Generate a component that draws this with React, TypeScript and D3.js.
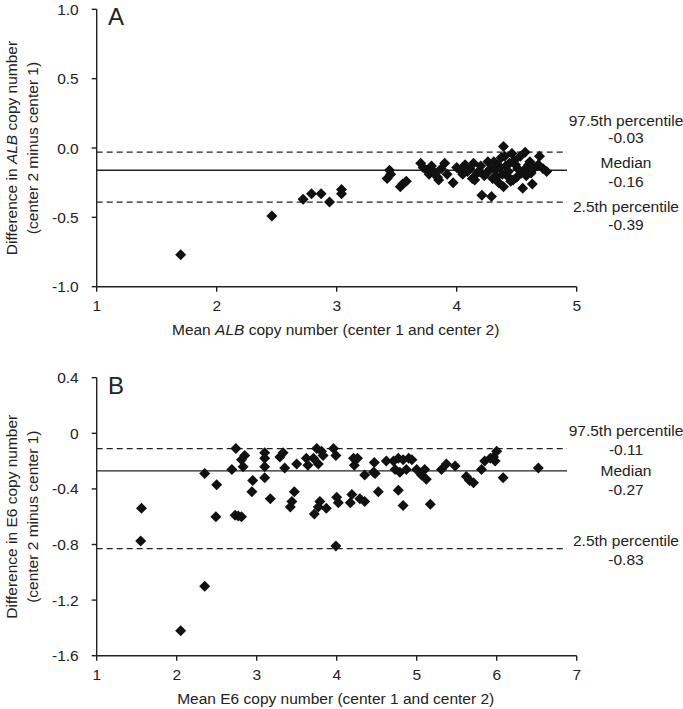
import React from "react";
import * as d3 from "d3";

// Panel A: mean ALB copy number vs difference
const albPoints: [number, number][] = [
  [1.70,-0.77],[2.46,-0.49],[2.72,-0.37],[2.79,-0.33],[2.87,-0.33],[2.94,-0.39],[3.04,-0.30],[3.04,-0.33],
  [3.42,-0.22],[3.44,-0.16],[3.45,-0.19],[3.53,-0.28],[3.55,-0.26],[3.58,-0.24],
  [3.70,-0.11],[3.72,-0.14],[3.75,-0.16],[3.77,-0.19],[3.79,-0.13],[3.80,-0.17],[3.82,-0.18],[3.84,-0.21],[3.85,-0.23],[3.87,-0.15],[3.90,-0.11],[3.92,-0.19],[3.97,-0.25],
  [4.00,-0.14],[4.03,-0.16],[4.05,-0.19],[4.07,-0.12],[4.09,-0.17],[4.11,-0.15],[4.13,-0.22],[4.14,-0.11],[4.15,-0.23],[4.17,-0.18],[4.19,-0.17],[4.20,-0.13],[4.21,-0.34],[4.23,-0.20],[4.25,-0.18],[4.26,-0.10],[4.28,-0.15],[4.29,-0.35],[4.30,-0.22],[4.31,-0.10],[4.32,-0.16],[4.33,-0.21],[4.34,-0.12],[4.35,-0.25],[4.36,-0.14],[4.37,-0.07],[4.38,-0.19],[4.39,0.01],[4.39,-0.28],[4.40,-0.06],[4.41,-0.13],[4.42,-0.20],[4.43,-0.17],[4.44,-0.11],[4.45,-0.24],[4.46,-0.04],[4.47,-0.23],[4.48,-0.09],[4.49,-0.12],[4.50,-0.21],[4.51,-0.15],[4.53,-0.06],[4.54,-0.18],[4.55,-0.29],[4.56,-0.16],[4.57,-0.03],[4.58,-0.20],[4.60,-0.12],[4.61,-0.10],[4.62,-0.18],[4.63,-0.26],[4.65,-0.14],[4.68,-0.12],[4.69,-0.06],[4.72,-0.15],[4.75,-0.17]
];

// Panel B: mean E6 copy number vs difference
const e6Points: [number, number][] = [
  [1.56,-0.54],[1.55,-0.775],[2.05,-1.42],[2.35,-1.10],[2.35,-0.29],[2.50,-0.37],[2.49,-0.60],
  [2.69,-0.26],[2.74,-0.11],[2.73,-0.59],[2.77,-0.595],[2.81,-0.60],[2.85,-0.16],[2.81,-0.19],[2.83,-0.24],
  [2.95,-0.34],[2.94,-0.42],[3.10,-0.14],[3.10,-0.18],[3.10,-0.24],[3.10,-0.32],[3.17,-0.47],
  [3.29,-0.17],[3.33,-0.14],[3.35,-0.25],[3.47,-0.42],[3.44,-0.49],[3.42,-0.53],[3.50,-0.22],
  [3.62,-0.18],[3.64,-0.23],[3.71,-0.18],[3.75,-0.11],[3.77,-0.22],[3.81,-0.13],[3.83,-0.16],
  [3.72,-0.58],[3.79,-0.49],[3.77,-0.53],[3.87,-0.54],[3.96,-0.11],[3.99,-0.16],[4.00,-0.46],
  [4.02,-0.50],[3.99,-0.81],[4.19,-0.44],[4.17,-0.50],[4.21,-0.18],[4.26,-0.18],[4.22,-0.23],
  [4.29,-0.47],[4.35,-0.49],[4.35,-0.30],[4.47,-0.21],[4.48,-0.29],[4.52,-0.42],[4.46,-0.28],
  [4.62,-0.20],[4.71,-0.20],[4.77,-0.18],[4.83,-0.19],[4.90,-0.18],[4.94,-0.19],[4.73,-0.26],
  [4.79,-0.28],[4.87,-0.26],[4.77,-0.41],[4.83,-0.52],[5.00,-0.26],[5.06,-0.30],[5.10,-0.26],
  [5.12,-0.33],[5.17,-0.51],[5.31,-0.26],[5.37,-0.22],[5.48,-0.235],[5.62,-0.31],[5.66,-0.34],
  [5.71,-0.355],[5.81,-0.26],[5.85,-0.20],[5.92,-0.18],[5.96,-0.17],[6.00,-0.13],[5.98,-0.20],
  [6.08,-0.32],[6.52,-0.25]
];

const albXTicks = [1, 2, 3, 4, 5];
const albYTicks = [1.0, 0.5, 0.0, -0.5, -1.0];
const albYTickLabels = ["1.0", "0.5", "0.0", "-0.5", "-1.0"];
const e6XTicks = [1, 2, 3, 4, 5, 6, 7];
const e6YTicks = [0.4, 0, -0.4, -0.8, -1.2, -1.6];
const e6YTickLabels = ["0.4", "0", "-0.4", "-0.8", "-1.2", "-1.6"];

const albLimits = [-0.03, -0.16, -0.39];
const e6Limits = [-0.11, -0.27, -0.83];
const limitNames = ["97.5th percentile", "Median", "2.5th percentile"];

const FONT = "'Liberation Sans', Arial, sans-serif";
const INK = "#222";

type PanelProps = {
  letter: string;
  points: [number, number][];
  xDomain: [number, number];
  yDomain: [number, number];
  xTicks: number[];
  yTicks: number[];
  yTickLabels: string[];
  limits: number[];
  top: number;
  bottom: number;
  gene: string;
  italic: boolean;
  labelOffsets: [number, number][]; // [name dy, value dy] relative to line y
};

const LEFT = 96.7;
const RIGHT = 576.7;
const LINE_END = 567;

function Panel(p: PanelProps) {
  const x = d3.scaleLinear().domain(p.xDomain).range([LEFT, RIGHT]);
  const y = d3.scaleLinear().domain(p.yDomain).range([p.bottom, p.top]);
  const diamond = "M0,-5.5L5.5,0L0,5.5L-5.5,0Z";
  const midY = (p.top + p.bottom) / 2;
  const geneSpan = p.italic ? (
    <tspan fontStyle="italic">{p.gene}</tspan>
  ) : (
    <tspan>{p.gene}</tspan>
  );
  return (
    <g fontFamily={FONT} fill={INK}>
      {/* reference lines */}
      {p.limits.map((v, i) => (
        <line
          key={"l" + i}
          x1={LEFT}
          x2={LINE_END}
          y1={y(v)}
          y2={y(v)}
          stroke={INK}
          strokeWidth={1.4}
          strokeDasharray={i === 1 ? undefined : "6,4"}
        />
      ))}
      {/* points */}
      {p.points.map((d, i) => (
        <path key={"p" + i} d={diamond} transform={`translate(${x(d[0])},${y(d[1])})`} fill="#111" />
      ))}
      {/* axes */}
      <line x1={LEFT} x2={LEFT} y1={p.top} y2={p.bottom} stroke={INK} strokeWidth={1.4} />
      <line x1={LEFT} x2={RIGHT} y1={p.bottom} y2={p.bottom} stroke={INK} strokeWidth={1.4} />
      {p.yTicks.map((t, i) => (
        <g key={"yt" + i}>
          <line x1={LEFT - 5} x2={LEFT} y1={y(t)} y2={y(t)} stroke={INK} strokeWidth={1.4} />
          <text x={LEFT - 18} y={y(t) + 5.5} textAnchor="end" fontSize={15.5}>
            {p.yTickLabels[i]}
          </text>
        </g>
      ))}
      {p.xTicks.map((t, i) => (
        <g key={"xt" + i}>
          <line x1={x(t)} x2={x(t)} y1={p.bottom} y2={p.bottom + 5} stroke={INK} strokeWidth={1.4} />
          <text x={x(t)} y={p.bottom + 24} textAnchor="middle" fontSize={15.5}>
            {t}
          </text>
        </g>
      ))}
      {/* axis titles */}
      <text x={(LEFT + RIGHT) / 2 - 1} y={p.bottom + 48} textAnchor="middle" fontSize={15.5}>
        Mean {geneSpan} copy number (center 1 and center 2)
      </text>
      <text transform={`translate(17,${midY}) rotate(-90)`} textAnchor="middle" fontSize={15.5}>
        Difference in {geneSpan} copy number
      </text>
      <text transform={`translate(38,${midY}) rotate(-90)`} textAnchor="middle" fontSize={15.5}>
        (center 2 minus center 1)
      </text>
      {/* panel letter */}
      <text x={108} y={p.top + 16} fontSize={24}>
        {p.letter}
      </text>
      {/* limit annotations */}
      {p.limits.map((v, i) => (
        <g key={"a" + i} textAnchor="middle" fontSize={15.5}>
          <text x={626} y={y(v) + p.labelOffsets[i][0]}>{limitNames[i]}</text>
          <text x={626} y={y(v) + p.labelOffsets[i][1]}>{v.toFixed(2)}</text>
        </g>
      ))}
    </g>
  );
}

export default function App() {
  return (
    <svg
      width={683}
      height={709}
      style={{ position: "absolute", left: 0, top: 0, background: "#fff" }}
    >
      <rect width={683} height={709} fill="#fff" />
      <Panel
        letter="A"
        points={albPoints}
        xDomain={[1, 5]}
        yDomain={[-1, 1]}
        xTicks={albXTicks}
        yTicks={albYTicks}
        yTickLabels={albYTickLabels}
        limits={albLimits}
        top={9.3}
        bottom={286.7}
        gene="ALB"
        italic={true}
        labelOffsets={[[-26, -9], [-2, 17], [10, 28]]}
      />
      <Panel
        letter="B"
        points={e6Points}
        xDomain={[1, 7]}
        yDomain={[-1.6, 0.4]}
        xTicks={e6XTicks}
        yTicks={e6YTicks}
        yTickLabels={e6YTickLabels}
        limits={e6Limits}
        top={377.7}
        bottom={655.7}
        gene="E6"
        italic={false}
        labelOffsets={[[-12.5, 6.5], [5, 24], [-2.5, 16.5]]}
      />
    </svg>
  );
}
